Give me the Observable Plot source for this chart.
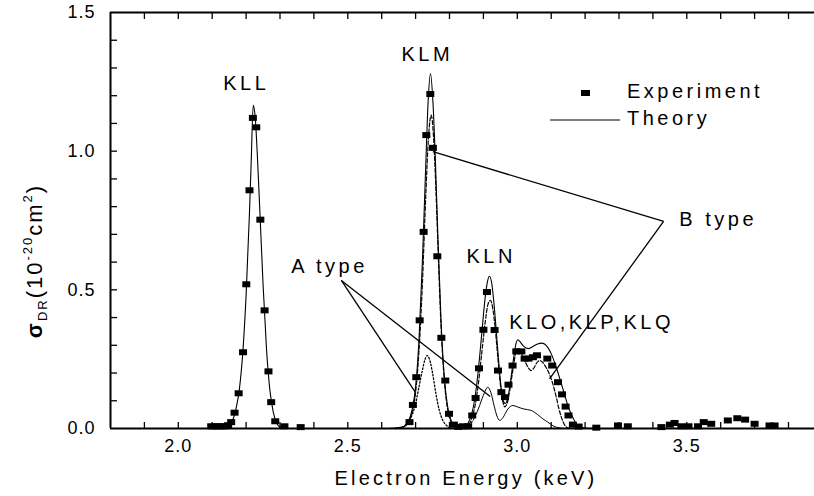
<!DOCTYPE html>
<html><head><meta charset="utf-8">
<script src="https://cdn.jsdelivr.net/npm/d3@7"></script>
<script src="https://cdn.jsdelivr.net/npm/@observablehq/plot@0.6"></script>
<style>
body{margin:0;background:#fff;overflow:hidden}
#chart{position:relative;width:814px;height:496px}
svg{font-family:"Liberation Sans",Arial,sans-serif}
</style></head><body><div id="chart"></div>
<script>
// Experimental points (keV, 10^-20 cm^2)
const expEnergy = [2.097,2.107,2.117,2.127,2.137,2.147,2.156,2.166,2.178,2.191,2.2006,2.210,2.220,2.230,2.242,2.2546,2.266,2.274,2.286,2.313,2.361,
  2.682,2.692,2.702,2.712,2.7237,2.7316,2.7434,2.751,2.764,2.776,2.7876,2.7985,2.813,2.826,2.84,2.855,
  2.867,2.877,2.887,2.900,2.9106,2.933,2.943,2.953,2.9636,2.974,2.986,2.997,
  3.012,3.0216,3.033,3.046,3.058,3.0885,3.103,3.12,3.132,3.1425,3.151,3.164,3.181,3.233,
  3.297,3.326,3.425,3.45,3.464,3.484,3.505,3.533,3.55,3.572,3.621,3.649,3.672,3.70,3.744,3.759];
const expSigma = [0.008,0.008,0.008,0.008,0.008,0.012,0.023,0.057,0.127,0.275,0.52,0.859,1.12,1.086,0.753,0.426,0.206,0.095,0.026,0.008,0.005,
  0.023,0.085,0.185,0.39,0.709,1.058,1.206,1.012,0.621,0.327,0.173,0.053,0.014,0.006,0.008,0.008,
  0.047,0.11,0.217,0.356,0.492,0.355,0.209,0.131,0.113,0.158,0.227,0.278,
  0.278,0.252,0.252,0.257,0.264,0.252,0.227,0.167,0.123,0.079,0.047,0.014,0.007,0.003,
  0.011,0.008,0.005,0.014,0.02,0.008,0.008,0.008,0.023,0.017,0.029,0.037,0.032,0.017,0.011,0.011];

// Theory (total), solid
const theoryEnergy = [2.08,2.12,2.14,2.16,2.17,2.18,2.19,2.20,2.21,2.215,2.221,2.227,2.233,2.24,2.25,2.26,2.27,2.28,2.29,2.30,2.33,2.62,
  2.66,2.68,2.69,2.70,2.71,2.72,2.73,2.737,2.744,2.751,2.758,2.765,2.775,2.785,2.795,2.805,2.815,2.83,2.84,
  2.855,2.865,2.875,2.885,2.895,2.905,2.912,2.918,2.925,2.932,2.94,2.948,2.955,2.96,2.965,2.972,2.98,2.99,2.996,
  3.002,3.01,3.02,3.032,3.045,3.06,3.072,3.085,3.10,3.115,3.128,3.14,3.15,3.16,3.17,3.18,3.20,3.25];
const theorySigma = [0,0.002,0.006,0.03,0.07,0.14,0.27,0.48,0.78,0.96,1.165,1.12,0.99,0.80,0.52,0.29,0.14,0.06,0.02,0.005,0,0,
  0.005,0.03,0.07,0.15,0.32,0.60,0.95,1.18,1.28,1.18,0.98,0.72,0.39,0.18,0.075,0.028,0.01,0.003,0.003,
  0.02,0.05,0.11,0.21,0.34,0.47,0.53,0.549,0.52,0.44,0.32,0.2,0.12,0.095,0.09,0.11,0.17,0.26,0.305,
  0.32,0.31,0.295,0.288,0.295,0.305,0.308,0.30,0.27,0.22,0.17,0.12,0.08,0.05,0.025,0.01,0.002,0];

// B type, dashed
const bTypeEnergy = [2.64,2.66,2.68,2.69,2.70,2.71,2.72,2.73,2.738,2.746,2.753,2.76,2.767,2.775,2.785,2.795,2.805,2.815,2.83,
  2.85,2.865,2.875,2.885,2.895,2.905,2.914,2.921,2.928,2.935,2.943,2.95,2.957,2.963,2.97,2.978,2.988,2.995,
  3.0,3.008,3.02,3.032,3.041,3.05,3.058,3.066,3.075,3.085,3.095,3.105,3.115,3.122,3.13,3.14,3.15,3.17];
const bTypeSigma = [0,0.003,0.025,0.06,0.13,0.28,0.52,0.84,1.05,1.13,1.05,0.86,0.62,0.37,0.17,0.065,0.022,0.006,0.001,
  0.005,0.035,0.08,0.16,0.27,0.38,0.45,0.462,0.43,0.36,0.25,0.16,0.1,0.078,0.09,0.14,0.22,0.27,
  0.288,0.28,0.25,0.22,0.209,0.22,0.238,0.245,0.238,0.22,0.195,0.16,0.113,0.075,0.041,0.012,0.002,0];

// A type: dotted part (KLM) and solid thin part (KLN and above)
const aTypeDotEnergy = [2.64,2.66,2.676,2.69,2.70,2.71,2.72,2.728,2.734,2.741,2.75,2.76,2.77,2.78,2.79,2.80,2.82,2.85,2.87];
const aTypeDotSigma  = [0,0.004,0.02,0.05,0.09,0.15,0.21,0.25,0.263,0.25,0.2,0.125,0.065,0.03,0.012,0.004,0,0.005,0.03];
const aTypeLineEnergy = [2.87,2.885,2.90,2.913,2.922,2.932,2.94,2.948,2.958,2.972,2.987,3.0,3.017,3.03,3.041,3.06,3.075,3.09,3.105,3.12,3.14];
const aTypeLineSigma  = [0.03,0.07,0.12,0.149,0.13,0.08,0.045,0.029,0.04,0.07,0.083,0.078,0.071,0.068,0.065,0.05,0.035,0.023,0.01,0.003,0];

// Annotations
const peakLabels = ["KLL","KLM","KLN"];
const peakLabelEnergy = [2.2006,2.7345,2.923];
const peakLabelSigma = [1.245,1.35,0.621];
const sideLabels = ["KLO,KLP,KLQ","A type","B type"];
const sideLabelEnergy = [2.976,2.333,3.478];
const sideLabelSigma = [0.383,0.585,0.755];
const pointerFromE = [2.481,2.481,3.4316,3.4316];
const pointerFromV = [0.534,0.534,0.747,0.747];
const pointerToE = [2.699,2.92,2.751,3.095];
const pointerToV = [0.131,0.115,0.998,0.179];

const xMinorTicks = [1.9,2.0,2.1,2.2,2.3,2.4,2.5,2.6,2.7,2.8,2.9,3.0,3.1,3.2,3.3,3.4,3.5,3.6,3.7,3.8];
const xTickLabels = [2.0,2.5,3.0,3.5];
const yMinorTicks = [0.1,0.2,0.3,0.4,0.5,0.6,0.7,0.8,0.9,1.0,1.1,1.2,1.3,1.4];
const yTickLabels = [0.0,0.5,1.0,1.5];

const experiment = expEnergy.map((e,i)=>({e, v: expSigma[i]}));
const theory = theoryEnergy.map((e,i)=>({e, v: theorySigma[i]}));
const bType = bTypeEnergy.map((e,i)=>({e, v: bTypeSigma[i]}));
const aDot = aTypeDotEnergy.map((e,i)=>({e, v: aTypeDotSigma[i]}));
const aLine = aTypeLineEnergy.map((e,i)=>({e, v: aTypeLineSigma[i]}));
const peaks = peakLabels.map((t,i)=>({t, e: peakLabelEnergy[i], v: peakLabelSigma[i]}));
const sides = sideLabels.map((t,i)=>({t, e: sideLabelEnergy[i], v: sideLabelSigma[i]}));
const pointers = pointerFromE.map((e,i)=>({x1:e, y1:pointerFromV[i], x2:pointerToE[i], y2:pointerToV[i]}));

const rectSymbol = {draw(ctx){ctx.moveTo(-4,-3);ctx.lineTo(4,-3);ctx.lineTo(4,3);ctx.lineTo(-4,3);ctx.closePath();}};

const chart = Plot.plot({
  width: 814, height: 496,
  marginLeft: 110, marginRight: 0, marginTop: 12, marginBottom: 68,
  style: {fontFamily: '"Liberation Sans", Arial, sans-serif', background: "#fff"},
  x: {domain: [1.8, 3.8767]},
  y: {domain: [0, 1.5]},
  marks: [
    Plot.axisX(xMinorTicks, {tickSize: -6, strokeWidth: 1.3, tickFormat: () => ""}),
    Plot.axisX(xMinorTicks, {anchor: "top", tickSize: -6, strokeWidth: 1.3, tickFormat: () => ""}),
    Plot.axisX(xTickLabels, {tickSize: 0, tickPadding: 11, fontSize: 18, tickFormat: d3.format(".1f")}),
    Plot.axisY(yMinorTicks, {tickSize: -7, strokeWidth: 1.3, tickFormat: () => ""}),
    Plot.axisY(yTickLabels, {tickSize: 0, tickPadding: 15, fontSize: 18, tickFormat: d3.format(".1f")}),
    Plot.line(aDot, {x: "e", y: "v", curve: "monotone-x", stroke: "black", strokeWidth: 1.3, strokeDasharray: "1.5,2"}),
    Plot.line(aLine, {x: "e", y: "v", curve: "monotone-x", stroke: "black", strokeWidth: 1}),
    Plot.line(bType, {x: "e", y: "v", curve: "monotone-x", stroke: "black", strokeWidth: 1.2, strokeDasharray: "4,2"}),
    Plot.line(theory, {x: "e", y: "v", curve: "monotone-x", stroke: "black", strokeWidth: 1.1}),
    Plot.link(pointers, {x1: "x1", y1: "y1", x2: "x2", y2: "y2", stroke: "black", strokeWidth: 1.3}),
    Plot.dot(experiment, {x: "e", y: "v", symbol: rectSymbol, fill: "black", stroke: "none"}),
    Plot.ruleY([0], {stroke: "black", strokeWidth: 2}),
    Plot.ruleY([1.5], {stroke: "black", strokeWidth: 2}),
    Plot.ruleX([1.8], {stroke: "black", strokeWidth: 2}),
    Plot.text(peaks, {x: "e", y: "v", text: "t", fontSize: 20, textAnchor: "middle", lineAnchor: "middle", fill: "black"}),
    Plot.text(sides, {x: "e", y: "v", text: "t", fontSize: 20, textAnchor: "start", lineAnchor: "middle", fill: "black"})
  ]
});
document.getElementById("chart").appendChild(chart);
const svg = d3.select(chart);
svg.selectAll('g[aria-label="text"] text').style("letter-spacing", "3.5px");
svg.selectAll('g[aria-label="x-axis tick label"] text, g[aria-label="y-axis tick label"] text').style("letter-spacing", "1px");

// axis titles
svg.append("text").attr("x", 466).attr("y", 485).attr("text-anchor", "middle")
  .style("font-size", "20px").style("letter-spacing", "3.2px").text("Electron Energy (keV)");
const yl = svg.append("text").attr("transform", "translate(42,261) rotate(-90)")
  .attr("text-anchor", "middle").style("font-size", "22px").style("letter-spacing", "2px");
yl.append("tspan").style("font-weight", "bold").text("σ");
yl.append("tspan").attr("dy", 5).style("font-size", "13px").text("DR");
yl.append("tspan").attr("dy", -5).text("(10");
yl.append("tspan").attr("dy", -10).style("font-size", "13px").text("-20");
yl.append("tspan").attr("dy", 10).text("cm");
yl.append("tspan").attr("dy", -10).style("font-size", "13px").text("2");
yl.append("tspan").attr("dy", 10).text(")");

// legend
const lg = svg.append("g").attr("text-anchor", "start");
lg.append("rect").attr("x", 581).attr("y", 90).attr("width", 9).attr("height", 6).attr("fill", "black");
lg.append("text").attr("x", 627).attr("y", 93).attr("text-anchor", "start").attr("dominant-baseline", "middle")
  .style("font-size", "20px").style("letter-spacing", "3.5px").text("Experiment");
lg.append("line").attr("x1", 550).attr("x2", 620).attr("y1", 120).attr("y2", 120).attr("stroke", "black").attr("stroke-width", 1.1);
lg.append("text").attr("x", 627).attr("y", 120).attr("text-anchor", "start").attr("dominant-baseline", "middle")
  .style("font-size", "20px").style("letter-spacing", "3.5px").text("Theory");
</script></body></html>
